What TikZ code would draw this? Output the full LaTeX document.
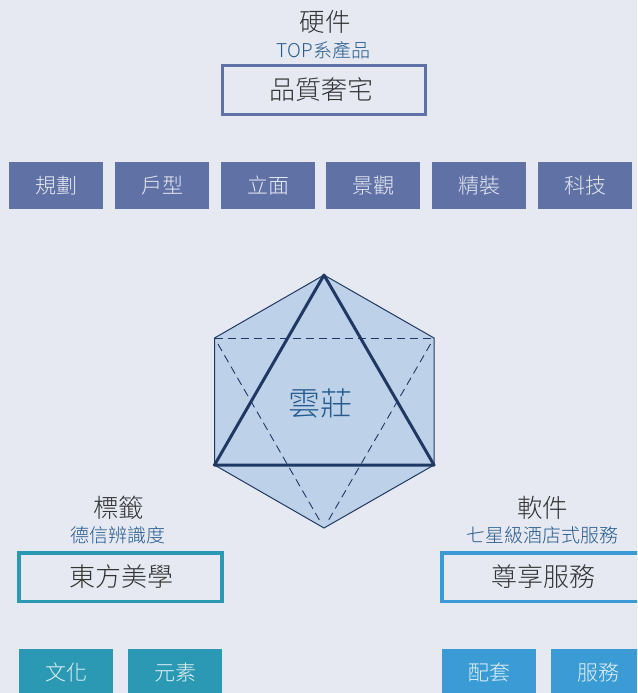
\documentclass[tikz,border=0pt]{standalone}
\usepackage{fontspec}
\setmainfont{Noto Sans CJK TC Light}
\definecolor{pagebg}{HTML}{E6E9F1}
\definecolor{slate}{HTML}{6071A6}
\definecolor{tealc}{HTML}{2C99B4}
\definecolor{skyc}{HTML}{3A9BD5}
\definecolor{hexfill}{HTML}{BDD2E8}
\definecolor{hexline}{HTML}{1F3864}
\definecolor{subc}{HTML}{245A8E}
\definecolor{headc}{HTML}{333333}
\tikzset{
  chip/.style={fill=#1,text=white!85!#1,minimum width=94pt,minimum height=47pt,inner sep=0pt,font=\fontsize{21}{24}\selectfont},
  frame/.style={draw=#1,line width=3.5pt,minimum width=203pt,minimum height=48.5pt,inner sep=0pt,text=headc,font=\fontsize{26}{30}\selectfont},
  head/.style={text=headc,inner sep=0pt,font=\fontsize{25.5}{30}\selectfont},
  subhead/.style={text=subc,inner sep=0pt,font=\fontsize{19}{22}\selectfont},
  thinedge/.style={draw=hexline,line width=1pt},
  dashedge/.style={draw=hexline,line width=.9pt,dash pattern=on 8pt off 5pt},
  boldedge/.style={draw=hexline,line width=3pt,line join=round}
}
\begin{document}
\begin{tikzpicture}[x=1pt,y=-1pt]
\useasboundingbox (0,0) rectangle (637,693);
\clip (0,0) rectangle (637,693);
\fill[pagebg] (0,0) rectangle (637,693);
% top group
\node[head] (hwhead) at (325,21.5) {硬件};
\node[subhead] (hwsub) at (323.5,50) {TOP系產品};
\node[frame=slate] (hwbox) at (324,90) {\raisebox{-1pt}{品質奢宅}\hspace*{5pt}};
\node[chip=slate] (c1) at (56,185.5) {規劃};
\node[chip=slate] (c2) at (162,185.5) {戶型};
\node[chip=slate] (c3) at (268,185.5) {立面};
\node[chip=slate] (c4) at (373,185.5) {景觀};
\node[chip=slate] (c5) at (479,185.5) {精裝};
\node[chip=slate] (c6) at (585,185.5) {科技};
% hexagon
\coordinate (ht) at (324,275);
\coordinate (hrt) at (434,338);
\coordinate (hrb) at (434,465);
\coordinate (hb) at (324,528);
\coordinate (hlb) at (214.5,465);
\coordinate (hlt) at (214.5,338);
\path[fill=hexfill,thinedge] (ht) -- (hrt) -- (hrb) -- (hb) -- (hlb) -- (hlt) -- cycle;
\path[dashedge] (hlt) -- (hrt);
\path[dashedge,shorten <=7pt,shorten >=7pt] (hrt) -- (hb);
\path[dashedge,shorten <=7pt,shorten >=7pt] (hlt) -- (hb);
\path[boldedge] (ht) -- (hrb) -- (hlb) -- cycle;
\node[text=subc,inner sep=0pt,font=\fontsize{32}{36}\selectfont] (core) at (320.5,403) {雲莊};
% left group
\node[head] (lhead) at (118.5,507.5) {標籤};
\node[subhead] (lsub) at (118,535) {德信辨識度};
\node[frame=tealc] (lbox) at (120.5,577) {\hspace*{2pt}東方美學};
\node[chip=tealc] (l1) at (66,672.5) {文化};
\node[chip=tealc] (l2) at (175,672.5) {元素};
% right group
\node[head] (rhead) at (542.5,507.5) {軟件};
\node[subhead] (rsub) at (542.5,535) {七星級酒店式服務};
\node[frame=skyc] (rbox) at (543.5,577) {尊享服務};
\node[chip=skyc] (r1) at (489,672.5) {配套};
\node[chip=skyc] (r2) at (598,672.5) {服務};
\end{tikzpicture}
\end{document}
